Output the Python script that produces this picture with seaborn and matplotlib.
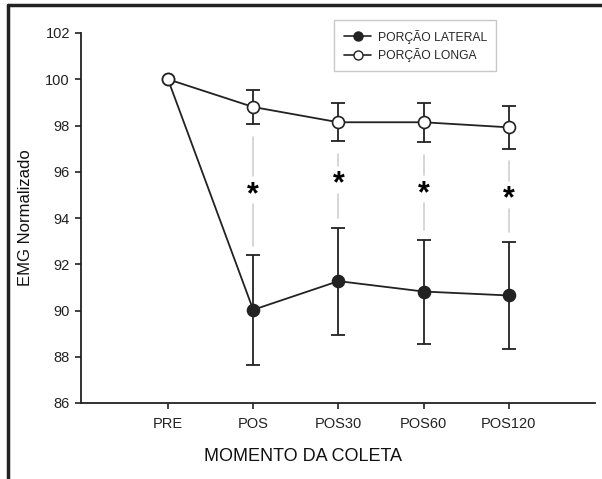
import numpy as np
import pandas as pd
import matplotlib
matplotlib.use("Agg")
import matplotlib.pyplot as plt
import seaborn as sns
from matplotlib.lines import Line2D

# ---- data ----
categories = ["PRE", "POS", "POS30", "POS60", "POS120"]
lateral_mean = [100.0, 90.03, 91.27, 90.82, 90.65]
lateral_sd = [0.0, 2.38, 2.31, 2.25, 2.33]
longa_mean = [100.0, 98.8, 98.14, 98.14, 97.92]
longa_sd = [0.0, 0.73, 0.82, 0.85, 0.92]
star_y = [None, 95.15, 95.6, 95.2, 94.95]
series_names = ["PORÇÃO LATERAL", "PORÇÃO LONGA"]
y_ticks = [86, 88, 90, 92, 94, 96, 98, 100, 102]

sns.set_theme(style="white")
plt.rcParams["font.family"] = ["Liberation Sans", "DejaVu Sans"]

fig = plt.figure(figsize=(6.02, 4.79), dpi=100)
ax = fig.add_axes([81/602, 1-403/479, (595-81)/602, (403-33)/479])

x = np.arange(len(categories))
df = pd.DataFrame({
    "x": np.concatenate([x, x]),
    "value": lateral_mean + longa_mean,
    "serie": [series_names[0]]*len(x) + [series_names[1]]*len(x),
})

lc = "#222222"
sns.lineplot(data=df[df.serie == series_names[0]], x="x", y="value", ax=ax,
             color=lc, lw=1.3, marker="o", markersize=8.6, markerfacecolor=lc,
             markeredgecolor=lc, markeredgewidth=1.2, legend=False, zorder=3)
sns.lineplot(data=df[df.serie == series_names[1]], x="x", y="value", ax=ax,
             color=lc, lw=1.3, marker="o", markersize=8.6, markerfacecolor="white",
             markeredgecolor=lc, markeredgewidth=1.2, legend=False, zorder=4)

for m, s in [(lateral_mean, lateral_sd), (longa_mean, longa_sd)]:
    xs = [xi for xi, si in zip(x, s) if si > 0]
    ms = [mi for mi, si in zip(m, s) if si > 0]
    ss = [si for si in s if si > 0]
    ax.errorbar(xs, ms, yerr=ss, fmt="none", ecolor=lc, elinewidth=1.3,
                capsize=5, capthick=1.3, zorder=2)

# significance markers with grey connector lines
gc = "#cfcfcf"
for i, sy in enumerate(star_y):
    if sy is None:
        continue
    top_start = longa_mean[i] - longa_sd[i] - 0.55
    top_end = sy + 0.65
    bot_start = sy - 0.55
    bot_end = lateral_mean[i] + lateral_sd[i] + 0.4
    ax.plot([x[i], x[i]], [top_start, top_end], color=gc, lw=1.2, zorder=1)
    ax.plot([x[i], x[i]], [bot_start, bot_end], color=gc, lw=1.2, zorder=1)
    ax.text(x[i], sy, "*", ha="center", va="center_baseline", fontsize=22,
            fontweight="bold", color="black")

ax.set_xlim(-1.02, 5.01)
ax.set_ylim(86, 102)
ax.set_yticks(y_ticks)
ax.set_yticklabels([str(t) for t in y_ticks])
ax.set_xticks(x)
ax.set_xticklabels(categories)
ax.tick_params(axis="both", direction="out", length=4, width=1.2, color=lc,
               labelsize=10.5, labelcolor="#222222", left=True, bottom=True)
ax.tick_params(axis="x", pad=6)
ax.tick_params(axis="y", pad=4)
for side in ["top", "right"]:
    ax.spines[side].set_visible(False)
for side in ["left", "bottom"]:
    ax.spines[side].set_color(lc)
    ax.spines[side].set_linewidth(1.3)
ax.set_facecolor("white")

ax.set_xlabel("MOMENTO DA COLETA", fontsize=13, color="#111111")
ax.xaxis.set_label_coords((303-81)/514, -(448-403)/370, transform=ax.transAxes)
ax.set_ylabel("EMG Normalizado", fontsize=12, color="#111111")
ax.yaxis.set_label_coords(-(81-33)/514, 0.5, transform=ax.transAxes)

handles = [
    Line2D([], [], color=lc, lw=1.2, marker="o", markersize=6.5,
           markerfacecolor=lc, markeredgecolor=lc),
    Line2D([], [], color=lc, lw=1.2, marker="o", markersize=6.5,
           markerfacecolor="white", markeredgecolor=lc),
]
leg = fig.legend(handles, series_names, loc="upper left",
                 bbox_to_anchor=(334/602, 1-20/479), fontsize=8.7,
                 frameon=True, fancybox=False, handlelength=2.3,
                 handletextpad=0.5, borderpad=0.8, labelspacing=0.35,
                 borderaxespad=0)
leg.get_frame().set_edgecolor("#bbbbbb")
leg.get_frame().set_linewidth(1.0)

# outer frame (left and top)
fig.add_artist(Line2D([8/602, 8/602], [0, 1-5/479], color="#222222", lw=2.5,
                      transform=fig.transFigure))
fig.add_artist(Line2D([8/602, 1], [1-5/479, 1-5/479], color="#222222", lw=2.5,
                      transform=fig.transFigure))

fig.savefig("out.png", dpi=100)
